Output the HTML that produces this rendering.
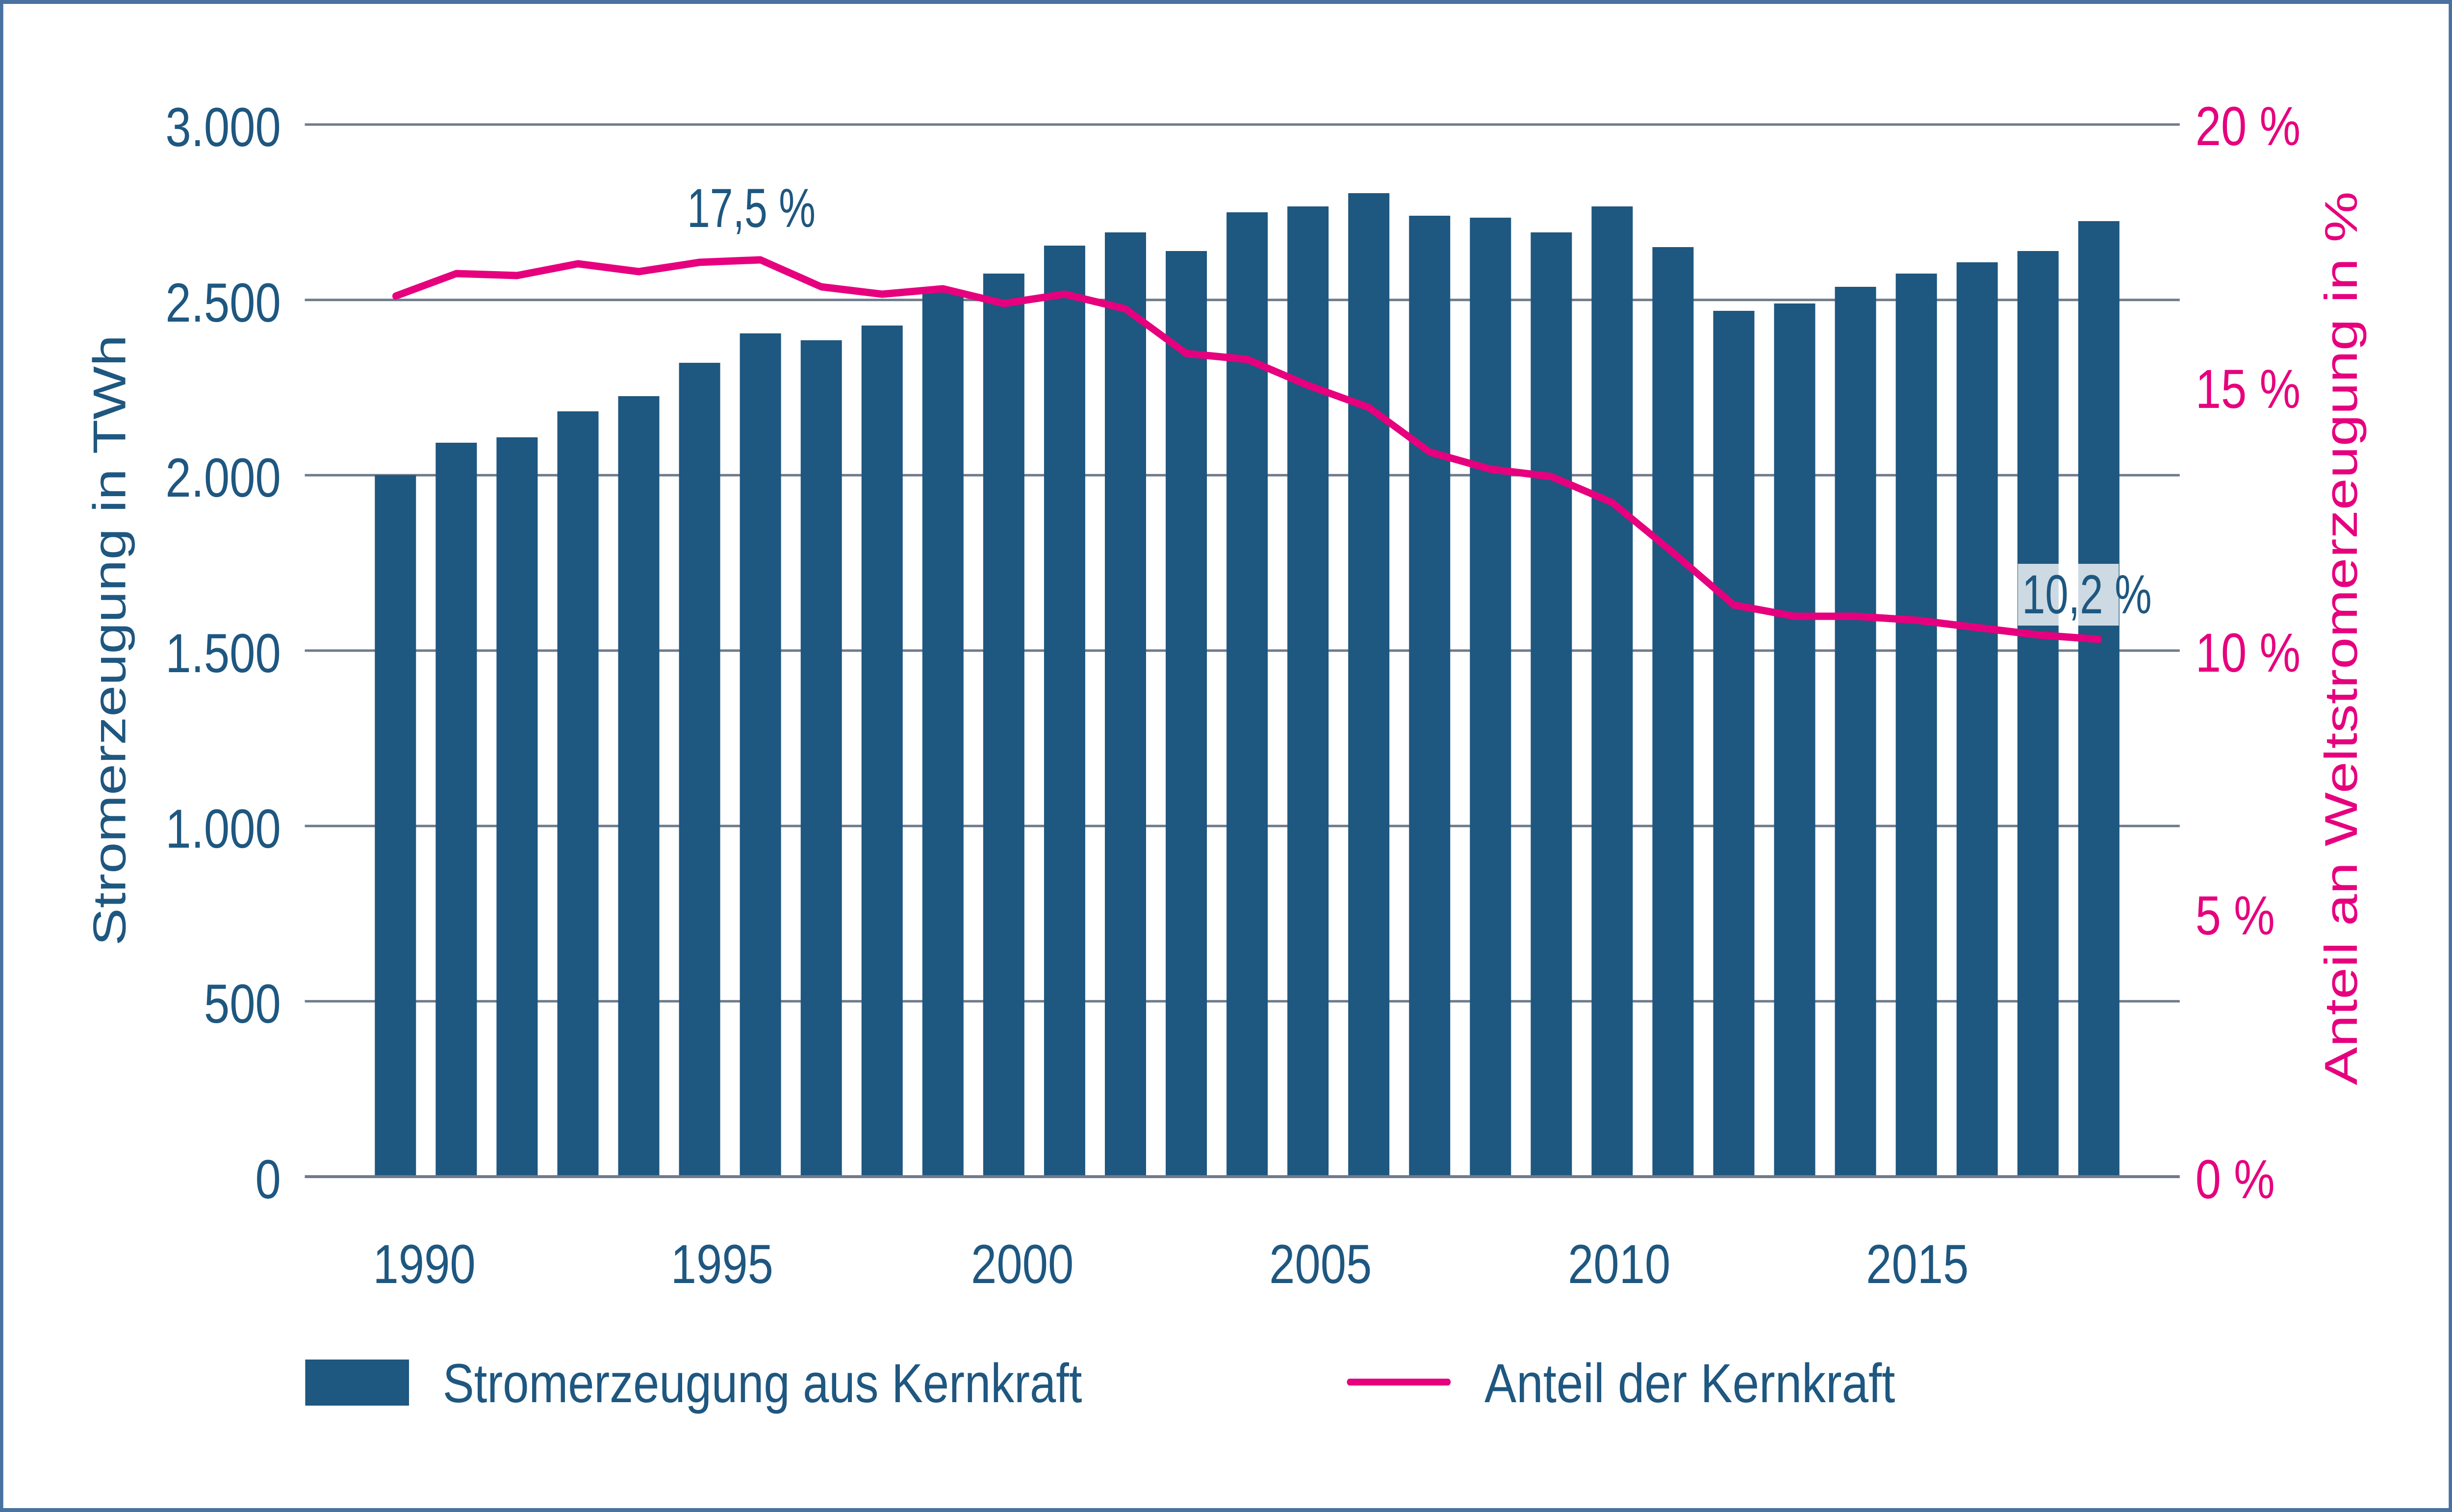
<!DOCTYPE html>
<html><head><meta charset="utf-8"><style>
html,body{margin:0;padding:0;background:#fff;overflow:hidden;width:100%;height:100%;}
svg{display:block;width:100vw;height:100vh;}
text{font-family:"Liberation Sans",sans-serif;}
</style></head><body>
<svg viewBox="0 0 5953 3084" preserveAspectRatio="none" xmlns="http://www.w3.org/2000/svg">
<rect x="4" y="4" width="5945" height="3076" fill="#fff" stroke="#4a72a0" stroke-width="8"/>
<g stroke="#6e7b8b" stroke-width="5">
<line x1="740" y1="254" x2="5292" y2="254"/>
<line x1="740" y1="611.7" x2="5292" y2="611.7"/>
<line x1="740" y1="969.3" x2="5292" y2="969.3"/>
<line x1="740" y1="1327" x2="5292" y2="1327"/>
<line x1="740" y1="1684.7" x2="5292" y2="1684.7"/>
<line x1="740" y1="2042.3" x2="5292" y2="2042.3"/>
</g>
<g fill="#1e5780">
<rect x="910" y="969" width="100" height="1431"/>
<rect x="1057.7" y="903" width="100" height="1497"/>
<rect x="1205.4" y="892" width="100" height="1508"/>
<rect x="1353.1" y="839" width="100" height="1561"/>
<rect x="1500.8" y="808" width="100" height="1592"/>
<rect x="1648.5" y="740" width="100" height="1660"/>
<rect x="1796.2" y="680" width="100" height="1720"/>
<rect x="1943.9" y="694" width="100" height="1706"/>
<rect x="2091.6" y="664" width="100" height="1736"/>
<rect x="2239.3" y="592" width="100" height="1808"/>
<rect x="2387" y="558" width="100" height="1842"/>
<rect x="2534.7" y="501" width="100" height="1899"/>
<rect x="2682.4" y="474" width="100" height="1926"/>
<rect x="2830.1" y="512" width="100" height="1888"/>
<rect x="2977.8" y="433" width="100" height="1967"/>
<rect x="3125.5" y="421" width="100" height="1979"/>
<rect x="3273.2" y="394" width="100" height="2006"/>
<rect x="3420.9" y="440" width="100" height="1960"/>
<rect x="3568.6" y="444" width="100" height="1956"/>
<rect x="3716.3" y="474" width="100" height="1926"/>
<rect x="3864" y="421" width="100" height="1979"/>
<rect x="4011.7" y="504" width="100" height="1896"/>
<rect x="4159.4" y="634" width="100" height="1766"/>
<rect x="4307.1" y="619" width="100" height="1781"/>
<rect x="4454.8" y="585" width="100" height="1815"/>
<rect x="4602.5" y="558" width="100" height="1842"/>
<rect x="4750.2" y="535" width="100" height="1865"/>
<rect x="4897.9" y="512" width="100" height="1888"/>
<rect x="5045.6" y="451" width="100" height="1949"/>
</g>
<line x1="740" y1="2400" x2="5292" y2="2400" stroke="#6e7b8b" stroke-width="6"/>
<rect x="4899" y="1150" width="245" height="126" fill="#fff" fill-opacity="0.78"/>
<polyline fill="none" stroke="#e6007e" stroke-width="15" stroke-linejoin="round" stroke-linecap="round" points="960,604 1107.7,558 1255.4,562 1403.1,538 1550.8,554 1698.5,535 1846.2,530 1993.9,585 2141.6,600 2289.3,589 2437,619 2584.7,600 2732.4,630 2880.1,721 3027.8,733 3175.5,786 3323.2,831 3470.9,922 3618.6,957 3766.3,972 3914,1025 4061.7,1127 4209.4,1234 4357.1,1257 4504.8,1257 4652.5,1265 4800.2,1280 4947.9,1295 5095.6,1304"/>
<g fill="#1e5780" font-size="112" text-anchor="end">
<text x="682" y="298">3.000</text>
<text x="682" y="656">2.500</text>
<text x="682" y="1013">2.000</text>
<text x="682" y="1371">1.500</text>
<text x="682" y="1729">1.000</text>
<text x="682" y="2086">500</text>
<text x="682" y="2444">0</text>
</g>
<g fill="#e6007e" font-size="112">
<text x="5330" y="296">20 %</text>
<text x="5330" y="832">15 %</text>
<text x="5330" y="1370">10 %</text>
<text x="5330" y="1906">5 %</text>
<text x="5330" y="2444">0 %</text>
</g>
<g fill="#1e5780" font-size="112" text-anchor="middle">
<text x="1030" y="2617">1990</text>
<text x="1753" y="2617">1995</text>
<text x="2482" y="2617">2000</text>
<text x="3206" y="2617">2005</text>
<text x="3931" y="2617">2010</text>
<text x="4655" y="2617">2015</text>
</g>
<text x="1668" y="463" fill="#1e5780" font-size="112" textLength="312" lengthAdjust="spacingAndGlyphs">17,5 %</text>
<text x="4909" y="1251" fill="#1e5780" font-size="112" textLength="315" lengthAdjust="spacingAndGlyphs">10,2 %</text>
<text transform="translate(304,1306) rotate(-90)" text-anchor="middle" fill="#1e5780" font-size="112" textLength="1246" lengthAdjust="spacingAndGlyphs">Stromerzeugung in TWh</text>
<text transform="translate(5722,1302) rotate(-90)" text-anchor="middle" fill="#e6007e" font-size="112" textLength="1823" lengthAdjust="spacingAndGlyphs">Anteil an Weltstromerzeugung in %</text>
<rect x="741" y="2773" width="252" height="94" fill="#1e5780"/>
<text x="1075" y="2860" fill="#1e5780" font-size="112" textLength="1552" lengthAdjust="spacingAndGlyphs">Stromerzeugung aus Kernkraft</text>
<line x1="3277" y1="2819" x2="3515" y2="2819" stroke="#e6007e" stroke-width="14" stroke-linecap="round"/>
<text x="3604" y="2860" fill="#1e5780" font-size="112" textLength="997" lengthAdjust="spacingAndGlyphs">Anteil der Kernkraft</text>
</svg>
</body></html>
